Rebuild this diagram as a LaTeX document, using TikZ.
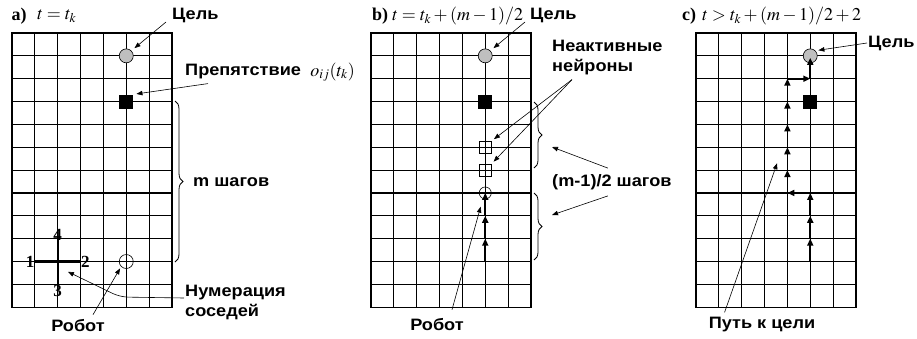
\documentclass[tikz,border=0pt]{standalone}
\usepackage{mathptmx}
\usepackage[no-math]{fontspec}
\setmainfont{Liberation Serif}
\newfontfamily\lblfont[FakeStretch=1.1]{Liberation Sans}
\usetikzlibrary{arrows.meta,calc,positioning,decorations.pathreplacing}
\newcommand{\lb}{\lblfont\bfseries\fontsize{16.5}{20}\selectfont}
\newcommand{\tl}{\fontsize{18}{20}\selectfont}
\newcommand{\cells}{%
  \foreach \c in {0,...,7} \draw[grd] (\c,0) -- (\c,12);
  \foreach \r in {0,...,12} \draw[grd] (0,\r) -- (7,\r);}

\begin{document}
\begin{tikzpicture}[
  x=1pt, y=-1pt,
  >={Triangle[length=6pt,width=4.5pt]},
  lbl/.style={font=\lb, inner sep=1pt, align=left},
  ttl/.style={font=\tl, inner sep=1pt},
  pnl/.style={font=\bfseries\fontsize{18}{20}\selectfont, inner sep=1pt},
  num/.style={font=\bfseries\fontsize{17}{18}\selectfont, inner sep=0.3pt},
  ptr/.style={->, line width=0.6pt},
  grd/.style={line width=1.1pt, line cap=rect},
  goal/.style={circle, draw, fill=black!25, minimum size=14pt, inner sep=0pt, line width=0.6pt},
  obst/.style={rectangle, fill=black, minimum size=14pt, inner sep=0pt},
  rob/.style={circle, draw, minimum size=14pt, inner sep=0pt, line width=0.6pt},
  inact/.style={rectangle, draw, minimum size=12pt, inner sep=0pt, line width=0.6pt},
  pth/.style={-{Triangle[length=7pt,width=6pt]}, line width=1.7pt},
  brc/.style={decorate, decoration={brace, amplitude=8pt}, line width=0.8pt},
]
  \useasboundingbox (0,0) rectangle (917,338);

  % ---------------- a) t = t_k
  \begin{scope}[shift={(12,33)}, x=22.85pt, y=-22.85pt]
    \cells
    \node[goal] (goalA) at (5,1) {};
    \node[obst] (obstA) at (5,3) {};
    \node[rob] (robA) at (5,10) {};
    \draw[line width=2.2pt] (1,10) -- (3,10);
    \draw[line width=2.2pt] (2,9) -- (2,11);
    \node[num, anchor=east] (n1) at (1,10) {1};
    \node[num, anchor=west] (n2) at (3,10) {2};
    \node[num, anchor=north] (n3) at (2,11) {3};
    \node[num, anchor=south] (n4) at (2,9.1) {4};
    \coordinate (numtip) at (2.45,10.45);
  \end{scope}
  \node[pnl] (ta) at (19,16) {a)};
  \node[ttl, anchor=west] (tma) at (36,16) {$t=t_k$};
  \node[lbl, anchor=west] (lgoalA) at (171,15) {Цель};
  \node[lbl, anchor=west] (lobstA) at (184,72) {Препятствие};
  \node[ttl, right=7pt of lobstA] (lobstmA) {$o_{ij}(t_k)$};
  \node[lbl, anchor=west] (lstepsA) at (192,182) {m шагов};
  \node[lbl] (lrobA) at (78,326) {Робот};
  \node[lbl, anchor=west] (lnumA) at (184,302) {Нумерация\\соседей};
  \draw[brc] (175,101) -- (175,262);
  \draw[ptr, shorten >=4pt] ($(lgoalA.west)+(-5,7)$) -- (goalA.north east);
  \draw[ptr, shorten >=3pt] ($(lobstA.south west)+(24,3)$) -- (obstA.north east);
  \draw[ptr, shorten >=2pt] ($(lrobA.north)+(15,-4)$) -- (robA.south west);
  \draw[ptr, rounded corners=8pt] ([yshift=4pt]lnumA.west) -- (120,297) -- (numtip);

  % ---------------- b) t = t_k + (m-1)/2
  \begin{scope}[shift={(371,33)}, x=22.85pt, y=-22.85pt]
    \cells
    \node[goal] (goalB) at (5,1) {};
    \node[obst] (obstB) at (5,3) {};
    \node[inact] (in1) at (5,5) {};
    \node[inact] (in2) at (5,6) {};
    \node[rob, minimum size=12pt] (robB) at (5,7) {};
    \foreach \i/\r in {0/10, 1/9, 2/8} \coordinate (b\i) at (5,\r);
    \foreach \a/\b in {b0/b1, b1/b2} \draw[pth] (\a) -- (\b);
    \draw[pth] (b2) -- (robB.center);
    \coordinate (robtipB) at (4.8,7.6);
  \end{scope}
  \node[pnl] (tb) at (380,16) {b)};
  \node[ttl, anchor=west] (tmb) at (391,16) {$t=t_k+(m-1)/2$};
  \node[lbl, anchor=west] (lgoalB) at (529,15) {Цель};
  \node[lbl, anchor=west] (linB) at (551,58) {Неактивные\\нейроны};
  \node[lbl, anchor=west] (lstepsB) at (551,182) {(m-1)/2 шагов};
  \node[lbl] (lrobB) at (437,325) {Робот};
  \draw[brc] (534,102) -- (534,168);
  \draw[brc] (534,193) -- (534,260);
  \coordinate (bB1) at (552,147);
  \coordinate (bB2) at (552,215);
  \draw[ptr, shorten >=4pt] ($(lgoalB.west)+(-4,7)$) -- (goalB.north east);
  \draw[ptr, shorten >=3pt] ($(linB.south west)+(21,3)$) -- (in1.north east);
  \draw[ptr, shorten >=3pt] ($(linB.south west)+(21,3)$) -- (in2.north east);
  \draw[ptr] ($(lstepsB.north)+(-4,-5)$) -- (bB1);
  \draw[ptr] ($(lstepsB.south)+(-4,5)$) -- (bB2);
  \draw[ptr] ($(lrobB.north)+(15,-8)$) -- (robtipB);

  % ---------------- c) t > t_k + (m-1)/2 + 2
  \begin{scope}[shift={(696,33)}, x=22.85pt, y=-22.85pt]
    \cells
    \node[goal] (goalC) at (5,1) {};
    \node[obst] (obstC) at (5,3) {};
    \foreach \i/\c/\r in {0/5/10, 1/5/9, 2/5/8, 3/5/7, 4/4/7, 5/4/6, 6/4/5, 7/4/4, 8/4/3, 9/4/2, 10/5/2}
      \coordinate (c\i) at (\c,\r);
    \foreach \a/\b in {c0/c1, c1/c2, c2/c3, c3/c4, c4/c5, c5/c6, c6/c7, c7/c8, c8/c9, c9/c10}
      \draw[pth] (\a) -- (\b);
    \draw[pth, shorten >=2pt] (c10) -- (goalC.center);
    \coordinate (ptipC) at (3.55,5.7);
  \end{scope}
  \node[pnl] (tc) at (689,16) {c)};
  \node[ttl, anchor=west] (tmc) at (701,16) {$t>t_k+(m-1)/2+2$};
  \node[lbl, anchor=west] (lgoalC) at (867,43) {Цель};
  \node[lbl] (lpathC) at (762,325) {Путь к цели};
  \draw[ptr, shorten >=3pt] (lgoalC.west) -- (goalC.north east);
  \draw[ptr] ($(lpathC.north west)+(17,-4)$) -- (ptipC);
\end{tikzpicture}
\end{document}
